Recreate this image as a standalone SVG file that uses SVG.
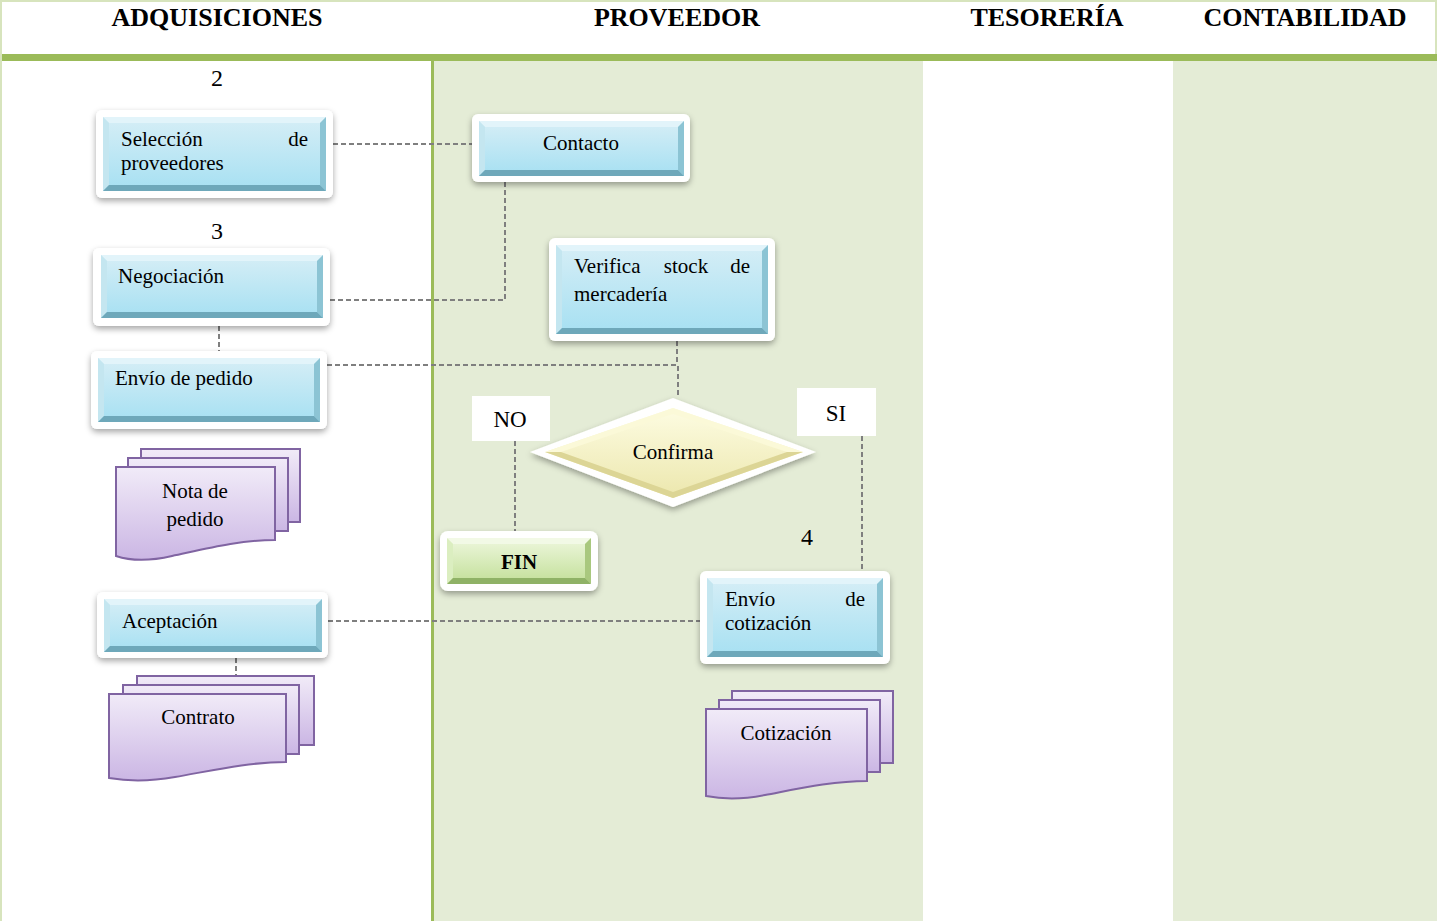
<svg xmlns="http://www.w3.org/2000/svg" width="1437" height="921" viewBox="0 0 1437 921">
  <defs>
    <style>
      .hdr { font-family: "Liberation Serif", "Times New Roman", serif; font-size: 26px; font-weight: bold; fill: #000; text-anchor: middle; }
      .txt { font-family: "Liberation Serif", "Times New Roman", serif; font-size: 21px; fill: #000; }
      .num { font-family: "Liberation Serif", "Times New Roman", serif; font-size: 24px; fill: #000; text-anchor: middle; }
      .yn { font-family: "Liberation Serif", "Times New Roman", serif; font-size: 23px; fill: #000; text-anchor: middle; }
      .mid { text-anchor: middle; }
      .end { text-anchor: end; }
      .frame { fill: #ffffff; filter: url(#shadow); }
      .face { fill: url(#blueGrad); }
      .bt { fill: #e2f4fa; }
      .bl { fill: #c4e6f0; }
      .br { fill: #8cc4d4; }
      .bb { fill: #6ea8ba; }
      .gface { fill: url(#greenGrad); }
      .gt { fill: #f2f9e6; }
      .gl { fill: #dbeec0; }
      .gr { fill: #a9c87e; }
      .gb { fill: #8fb266; }
      .page { fill: url(#purpleGrad); stroke: #8064a2; stroke-width: 2; }
      .dash { fill: none; stroke: #7f7f7f; stroke-width: 2; stroke-dasharray: 5 3; }
      .lbl { fill: #ffffff; }
    </style>
    <linearGradient id="blueGrad" x1="0" y1="0" x2="0" y2="1">
      <stop offset="0" stop-color="#d6eef6"/>
      <stop offset="1" stop-color="#a6e0f2"/>
    </linearGradient>
    <linearGradient id="greenGrad" x1="0" y1="0" x2="0" y2="1">
      <stop offset="0" stop-color="#eef7dd"/>
      <stop offset="1" stop-color="#c2df98"/>
    </linearGradient>
    <linearGradient id="yellowGrad" x1="0" y1="0" x2="0" y2="1">
      <stop offset="0" stop-color="#fdfce2"/>
      <stop offset="1" stop-color="#ece7ad"/>
    </linearGradient>
    <linearGradient id="purpleGrad" x1="0" y1="0" x2="0" y2="1">
      <stop offset="0" stop-color="#f1ebf8"/>
      <stop offset="1" stop-color="#cbb6e4"/>
    </linearGradient>
    <filter id="shadow" x="-10%" y="-10%" width="120%" height="130%">
      <feDropShadow dx="0" dy="3" stdDeviation="3" flood-color="#000" flood-opacity="0.35"/>
    </filter>
  </defs>

  <!-- swimlane background -->
  <g id="lanes">
    <rect x="0" y="0" width="1437" height="921" fill="#ffffff"/>
    <rect x="434" y="61" width="489" height="860" fill="#e4ecd6"/>
    <rect x="1173" y="61" width="264" height="860" fill="#e4ecd6"/>
    <rect x="0" y="54" width="1437" height="7" fill="#9bbb59"/>
    <rect x="431" y="61" width="3" height="860" fill="#9bbb59"/>
    <rect x="0" y="0" width="1437" height="2" fill="#d7e4bd"/>
    <rect x="0" y="0" width="2" height="921" fill="#d7e4bd"/>
    <rect x="1435" y="0" width="2" height="54" fill="#d7e4bd"/>
    <text class="hdr" x="217" y="26">ADQUISICIONES</text>
    <text class="hdr" x="677" y="26">PROVEEDOR</text>
    <text class="hdr" x="1047" y="26">TESORERÍA</text>
    <text class="hdr" x="1305" y="26">CONTABILIDAD</text>
    <text class="num" x="217" y="86">2</text>
    <text class="num" x="217" y="239">3</text>
    <text class="num" x="807" y="545">4</text>
  </g>

  <!-- connectors -->
  <g id="connectors">
    <path class="dash" d="M333,144 H472"/>
    <path class="dash" d="M505,182 V300 H330"/>
    <path class="dash" d="M219,326 V351"/>
    <path class="dash" d="M327,365 H678 V398"/>
    <path class="dash" d="M677,341 V365"/>
    <path class="dash" d="M515,441 V531"/>
    <path class="dash" d="M862,436 V571"/>
    <path class="dash" d="M328,621 H700"/>
    <path class="dash" d="M236,658 V676"/>
  </g>

  <!-- Selección de proveedores -->
  <g id="seleccion">
    <rect class="frame" x="96" y="110" width="237" height="88" rx="6"/>
    <rect class="face" x="103" y="117" width="223" height="74"/>
    <polygon class="bt" points="103,117 326,117 320,123 109,123"/>
    <polygon class="bl" points="103,117 109,123 109,185 103,191"/>
    <polygon class="br" points="326,117 320,123 320,185 326,191"/>
    <polygon class="bb" points="103,191 326,191 320,185 109,185"/>
    <text class="txt" x="121" y="146">Selección</text>
    <text class="txt end" x="308" y="146">de</text>
    <text class="txt" x="121" y="170">proveedores</text>
  </g>

  <!-- Contacto -->
  <g id="contacto">
    <rect class="frame" x="472" y="114" width="218" height="68" rx="6"/>
    <rect class="face" x="479" y="121" width="205" height="55"/>
    <polygon class="bt" points="479,121 684,121 678,127 485,127"/>
    <polygon class="bl" points="479,121 485,127 485,170 479,176"/>
    <polygon class="br" points="684,121 678,127 678,170 684,176"/>
    <polygon class="bb" points="479,176 684,176 678,170 485,170"/>
    <text class="txt mid" x="581" y="150">Contacto</text>
  </g>

  <!-- Negociación -->
  <g id="negociacion">
    <rect class="frame" x="93" y="248" width="237" height="78" rx="6"/>
    <rect class="face" x="101" y="255" width="222" height="63"/>
    <polygon class="bt" points="101,255 323,255 317,261 107,261"/>
    <polygon class="bl" points="101,255 107,261 107,312 101,318"/>
    <polygon class="br" points="323,255 317,261 317,312 323,318"/>
    <polygon class="bb" points="101,318 323,318 317,312 107,312"/>
    <text class="txt" x="118" y="283">Negociación</text>
  </g>

  <!-- Verifica stock de mercadería -->
  <g id="verifica">
    <rect class="frame" x="549" y="238" width="226" height="103" rx="6"/>
    <rect class="face" x="556" y="245" width="212" height="89"/>
    <polygon class="bt" points="556,245 768,245 762,251 562,251"/>
    <polygon class="bl" points="556,245 562,251 562,328 556,334"/>
    <polygon class="br" points="768,245 762,251 762,328 768,334"/>
    <polygon class="bb" points="556,334 768,334 762,328 562,328"/>
    <text class="txt" x="574" y="273">Verifica</text>
    <text class="txt mid" x="686" y="273">stock</text>
    <text class="txt end" x="750" y="273">de</text>
    <text class="txt" x="574" y="301">mercadería</text>
  </g>

  <!-- Envío de pedido -->
  <g id="envio-pedido">
    <rect class="frame" x="91" y="351" width="236" height="78" rx="6"/>
    <rect class="face" x="98" y="358" width="222" height="64"/>
    <polygon class="bt" points="98,358 320,358 314,364 104,364"/>
    <polygon class="bl" points="98,358 104,364 104,416 98,422"/>
    <polygon class="br" points="320,358 314,364 314,416 320,422"/>
    <polygon class="bb" points="98,422 320,422 314,416 104,416"/>
    <text class="txt" x="115" y="385">Envío de pedido</text>
  </g>

  <!-- Nota de pedido (document stack) -->
  <g id="nota-pedido">
    <rect class="page" x="141" y="449" width="159" height="73"/>
    <rect class="page" x="128" y="458" width="160" height="73"/>
    <path class="page" d="M116,467 H275 V540 C240,540 205,549 172,556 C146,562 128,560 116,556 Z"/>
    <text class="txt mid" x="195" y="498">Nota de</text>
    <text class="txt mid" x="195" y="526">pedido</text>
  </g>

  <!-- Confirma (decision) -->
  <g id="confirma">
    <polygon fill="#ffffff" filter="url(#shadow)" points="530,452 673,398 816,452 673,507"/>
    <polygon fill="url(#yellowGrad)" points="545,452 673,408 803,452 673,498"/>
    <polygon fill="#fbf9d8" points="545,452 673,408 803,452 787,452 673,414 561,452"/>
    <polygon fill="#dcd595" points="545,452 673,498 803,452 787,452 673,492 561,452"/>
    <text class="txt mid" x="673" y="459">Confirma</text>
  </g>

  <!-- NO / SI labels -->
  <g id="label-no">
    <rect class="lbl" x="472" y="396" width="78" height="45"/>
    <text class="yn" x="510" y="427">NO</text>
  </g>
  <g id="label-si">
    <rect class="lbl" x="797" y="388" width="79" height="48"/>
    <text class="yn" x="836" y="421">SI</text>
  </g>

  <!-- FIN -->
  <g id="fin">
    <rect class="frame" x="440" y="531" width="158" height="60" rx="8"/>
    <rect class="gface" x="447" y="538" width="144" height="46" rx="2"/>
    <polygon class="gt" points="447,538 591,538 585,544 453,544"/>
    <polygon class="gl" points="447,538 453,544 453,578 447,584"/>
    <polygon class="gr" points="591,538 585,544 585,578 591,584"/>
    <polygon class="gb" points="447,584 591,584 585,578 453,578"/>
    <text class="txt mid" x="519" y="569" font-weight="bold">FIN</text>
  </g>

  <!-- Envío de cotización -->
  <g id="envio-cotizacion">
    <rect class="frame" x="700" y="571" width="190" height="93" rx="6"/>
    <rect class="face" x="707" y="578" width="176" height="79"/>
    <polygon class="bt" points="707,578 883,578 877,584 713,584"/>
    <polygon class="bl" points="707,578 713,584 713,651 707,657"/>
    <polygon class="br" points="883,578 877,584 877,651 883,657"/>
    <polygon class="bb" points="707,657 883,657 877,651 713,651"/>
    <text class="txt" x="725" y="606">Envío</text>
    <text class="txt end" x="865" y="606">de</text>
    <text class="txt" x="725" y="630">cotización</text>
  </g>

  <!-- Aceptación -->
  <g id="aceptacion">
    <rect class="frame" x="97" y="592" width="231" height="66" rx="6"/>
    <rect class="face" x="104" y="599" width="218" height="53"/>
    <polygon class="bt" points="104,599 322,599 316,605 110,605"/>
    <polygon class="bl" points="104,599 110,605 110,646 104,652"/>
    <polygon class="br" points="322,599 316,605 316,646 322,652"/>
    <polygon class="bb" points="104,652 322,652 316,646 110,646"/>
    <text class="txt" x="122" y="628">Aceptación</text>
  </g>

  <!-- Contrato (document stack) -->
  <g id="contrato">
    <rect class="page" x="137" y="676" width="177" height="69"/>
    <rect class="page" x="123" y="685" width="176" height="69"/>
    <path class="page" d="M109,694 H286 V762 C248,762 210,771 175,777 C147,782 126,781 109,778 Z"/>
    <text class="txt mid" x="198" y="724">Contrato</text>
  </g>

  <!-- Cotización (document stack) -->
  <g id="cotizacion">
    <rect class="page" x="732" y="691" width="161" height="72"/>
    <rect class="page" x="719" y="700" width="161" height="72"/>
    <path class="page" d="M706,709 H867 V781 C832,781 797,789 765,795 C740,800 721,799 706,796 Z"/>
    <text class="txt mid" x="786" y="740">Cotización</text>
  </g>
</svg>
